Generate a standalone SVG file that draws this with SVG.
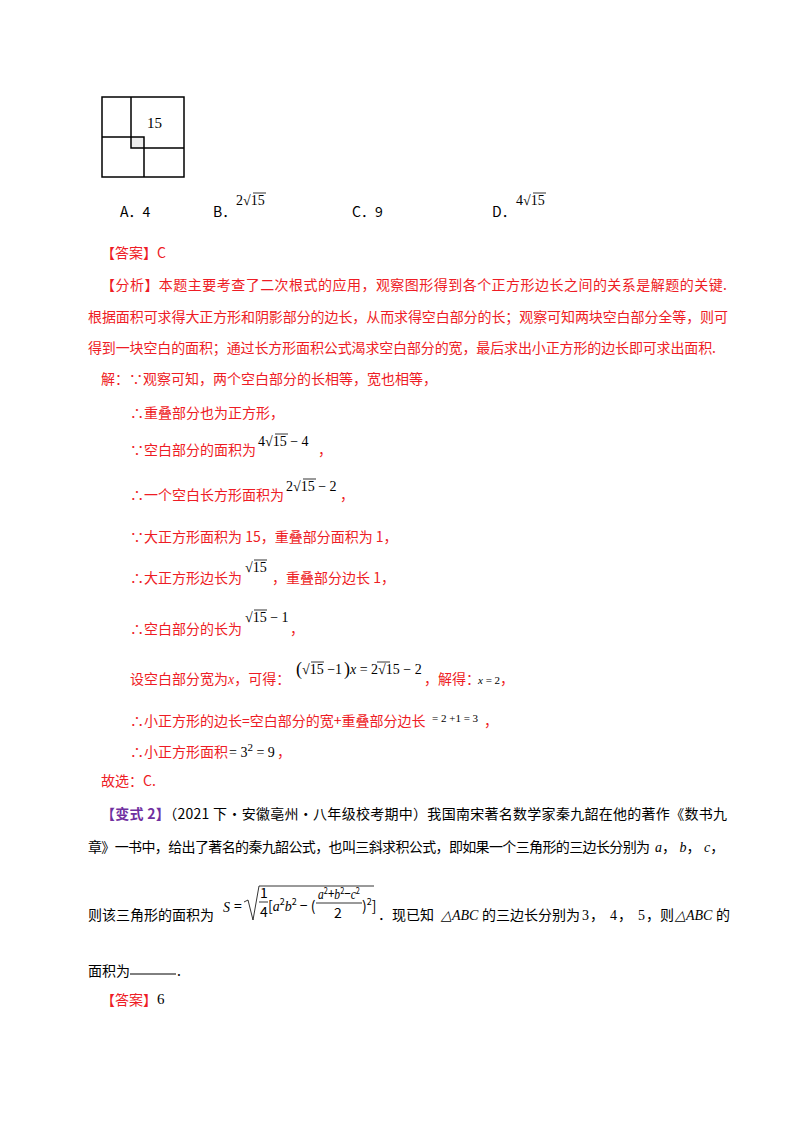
<svg xmlns="http://www.w3.org/2000/svg" width="800" height="1132" viewBox="0 0 800 1132">
<style>
text{font-family:"Noto Sans CJK SC","Liberation Sans",sans-serif;font-size:14px;fill:#000}
.r{fill:#ee1c25}
.p{fill:#7030a0;font-weight:bold}
.m{font-family:"Liberation Serif","Noto Sans CJK SC",serif;font-size:14px}
.i{font-family:"Liberation Serif",serif;font-style:italic}
.sm{font-size:11px}
.xs{font-size:9px}
.ln{stroke:#000;stroke-width:1.5;fill:none}
.ol{stroke:#000;stroke-width:0.8}
</style>
<rect width="800" height="1132" fill="#fff"/>
<g id="figure">
<rect x="131" y="137" width="13" height="11" fill="#eee"/>
<rect x="102" y="97" width="82" height="80" class="ln"/>
<path d="M131 97V148H184M102 137H144V177" class="ln"/>
<text x="147" y="128" class="m" style="font-size:15px">15</text>
</g>
<g id="choices">
<text x="120" y="217">A．4</text>
<text x="213" y="217">B．</text>
<text x="236" y="205" class="m">2√15</text><line x1="253" y1="193" x2="266" y2="193" class="ol"/>
<text x="352" y="217">C．9</text>
<text x="492" y="217">D．</text>
<text x="516" y="205" class="m">4√15</text><line x1="533" y1="193" x2="546" y2="193" class="ol"/>
</g>
<g id="solution">
<text x="101" y="258" class="r">【答案】C</text>
<text x="101" y="290" class="r" textLength="626">【分析】本题主要考查了二次根式的应用，观察图形得到各个正方形边长之间的关系是解题的关键.</text>
<text x="88" y="322" class="r" textLength="640">根据面积可求得大正方形和阴影部分的边长，从而求得空白部分的长；观察可知两块空白部分全等，则可</text>
<text x="88" y="353" class="r" textLength="628">得到一块空白的面积；通过长方形面积公式渴求空白部分的宽，最后求出小正方形的边长即可求出面积.</text>
<text x="101" y="384" class="r">解：∵观察可知，两个空白部分的长相等，宽也相等，</text>
<text x="130" y="418" class="r">∴重叠部分也为正方形，</text>
<text x="130" y="455" class="r">∵空白部分的面积为</text>
<text x="258" y="446" class="m">4√15 − 4</text><line x1="275" y1="434" x2="288" y2="434" class="ol"/>
<text x="318" y="455" class="r">，</text>
<text x="130" y="500" class="r">∴一个空白长方形面积为</text>
<text x="286" y="491" class="m">2√15 − 2</text><line x1="303" y1="479" x2="316" y2="479" class="ol"/>
<text x="340" y="500" class="r">，</text>
<text x="130" y="542" class="r">∵大正方形面积为 15，重叠部分面积为 1，</text>
<text x="130" y="583" class="r">∴大正方形边长为</text>
<text x="245" y="572" class="m">√15</text><line x1="254" y1="560" x2="267" y2="560" class="ol"/>
<text x="272" y="583" class="r">，重叠部分边长 1，</text>
<text x="130" y="634" class="r">∴空白部分的长为</text>
<text x="245" y="622" class="m">√15 − 1</text><line x1="254" y1="610" x2="267" y2="610" class="ol"/>
<text x="290" y="634" class="r">，</text>
<text x="130" y="684" class="r">设空白部分宽为<tspan class="i">x</tspan>，可得：</text>
<text x="296" y="675" class="m" style="font-size:18px">(</text>
<text x="302" y="674" class="m">√15 −1</text><line x1="311" y1="662" x2="324" y2="662" class="ol"/>
<text x="344" y="675" class="m" style="font-size:18px">)</text>
<text x="350" y="674" class="m"><tspan class="i">x</tspan> = 2√15 − 2</text><line x1="377" y1="662" x2="390" y2="662" class="ol"/>
<text x="424" y="684" class="r">，解得：</text>
<text x="478" y="684" class="m sm"><tspan class="i">x</tspan> = 2</text>
<text x="500" y="684" class="r">，</text>
<text x="130" y="726" class="r">∴小正方形的边长=空白部分的宽+重叠部分边长</text>
<text x="432" y="722" class="m sm">= 2 +1 = 3</text>
<text x="484" y="726" class="r">，</text>
<text x="130" y="757" class="r">∴小正方形面积</text>
<text x="229" y="757" class="m">= 3<tspan dy="-6" class="sm">2</tspan><tspan dy="6"> = 9</tspan></text>
<text x="277" y="757" class="r">，</text>
<text x="101" y="786" class="r">故选：C.</text>
</g>
<g id="variant">
<text x="101" y="819" textLength="626"><tspan class="p">【变式 2】</tspan>（2021 下·安徽亳州·八年级校考期中）我国南宋著名数学家秦九韶在他的著作《数书九</text>
<text x="88" y="852" textLength="562">章》一书中，给出了著名的秦九韶公式，也叫三斜求积公式，即如果一个三角形的三边长分别为</text>
<text x="655" y="852" class="m"><tspan class="i">a</tspan>， <tspan class="i">b</tspan>， <tspan class="i">c</tspan>，</text>
<text x="88" y="920">则该三角形的面积为</text>
<g class="m">
<text x="223" y="912" class="i">S</text><text x="234" y="911">=</text>
<path d="M244 902l4-2 5 20 6-34h115" class="ol" fill="none"/>
<text x="260" y="898">1</text><line x1="259" y1="902" x2="268" y2="902" class="ol"/><text x="260" y="917">4</text>
<text x="268" y="911">[<tspan class="i">a</tspan><tspan dy="-6" class="xs">2</tspan><tspan dy="6" class="i">b</tspan><tspan dy="-6" class="xs">2</tspan><tspan dy="6"> − (</tspan></text>
<text x="318" y="899" textLength="42" lengthAdjust="spacingAndGlyphs"><tspan class="i">a</tspan><tspan dy="-5" class="xs">2</tspan><tspan dy="5">+</tspan><tspan class="i">b</tspan><tspan dy="-5" class="xs">2</tspan><tspan dy="5">−</tspan><tspan class="i">c</tspan><tspan dy="-5" class="xs">2</tspan></text>
<line x1="316" y1="903" x2="362" y2="903" class="ol"/>
<text x="334" y="918">2</text>
<text x="362" y="911">)<tspan dy="-6" class="xs">2</tspan><tspan dy="6">]</tspan></text>
</g>
<text x="378" y="920">．现已知</text>
<text x="441" y="920" class="m i">△ABC</text>
<text x="482" y="920">的三边长分别为</text>
<text x="582" y="920" class="m">3</text><text x="590" y="920">，</text>
<text x="610" y="920" class="m">4</text><text x="618" y="920">，</text>
<text x="638" y="920" class="m">5</text><text x="646" y="920">，则</text>
<text x="675" y="920" class="m i">△ABC</text>
<text x="716" y="920">的</text>
<text x="88" y="976">面积为</text>
<line x1="130" y1="974" x2="176" y2="974" stroke="#000" stroke-width="1"/>
<text x="177" y="976">.</text>
<text x="101" y="1005" class="r">【答案】</text>
<text x="157" y="1004" class="m" style="font-size:15px">6</text>
</g>
</svg>
